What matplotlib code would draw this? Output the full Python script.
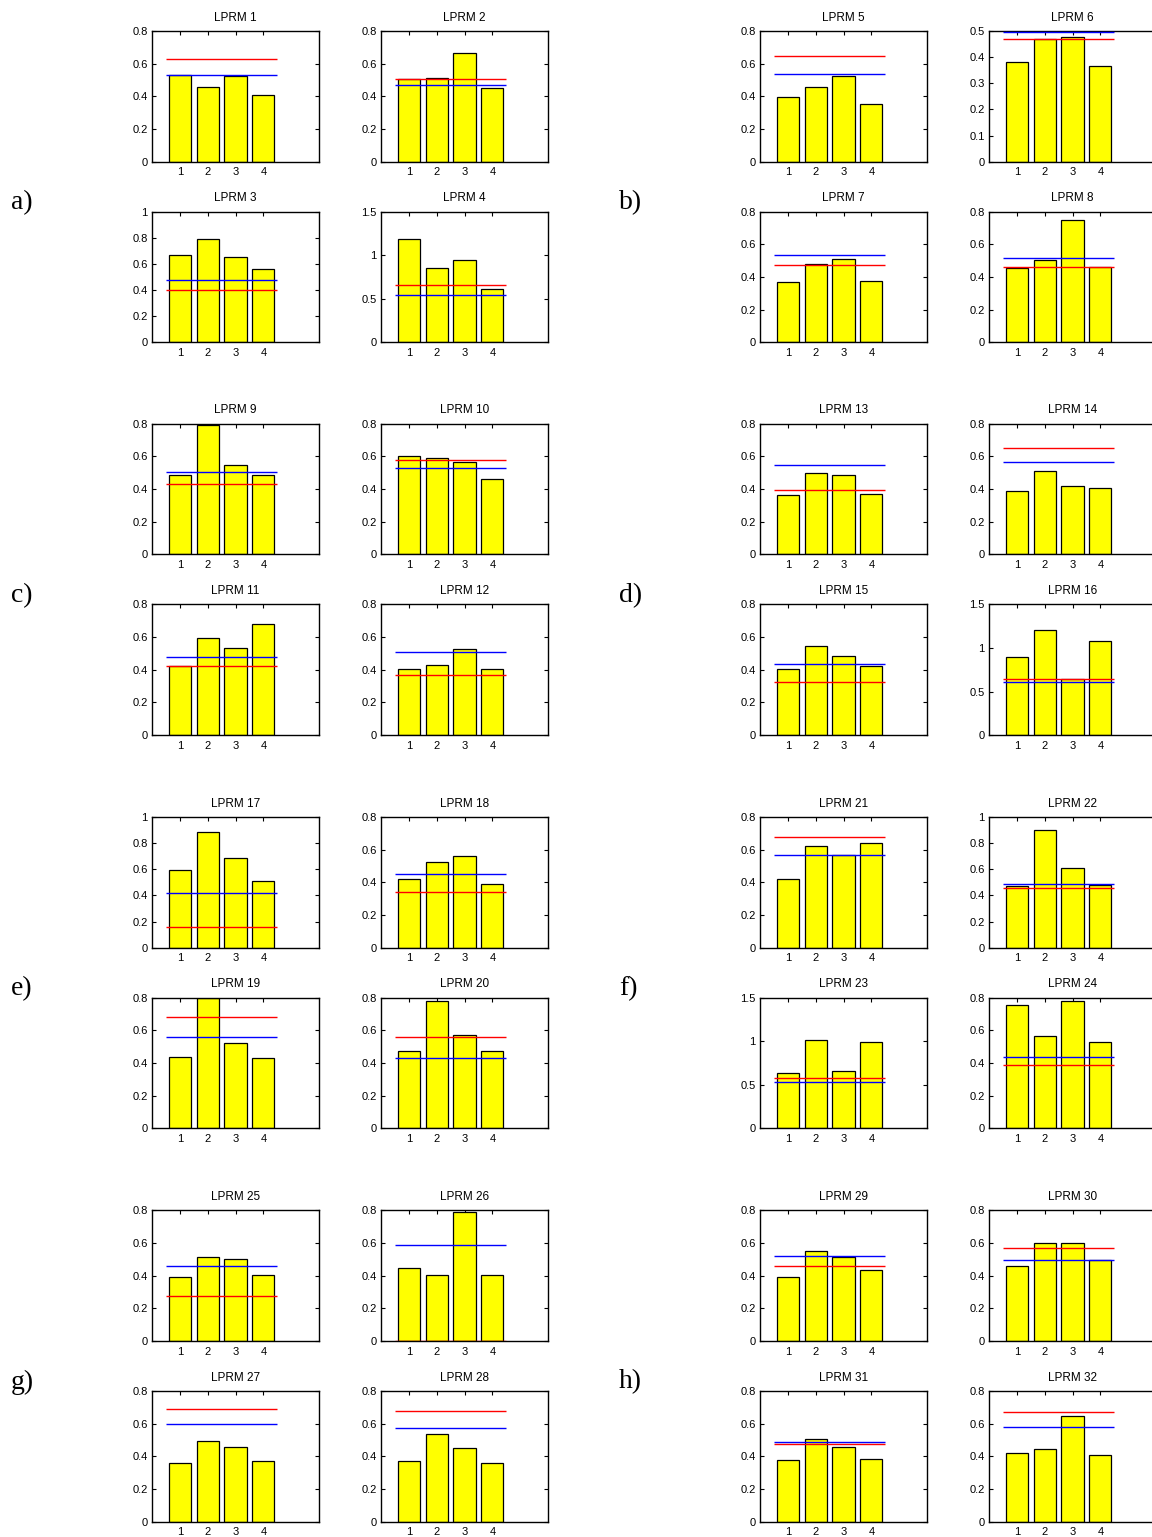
import numpy as np
import matplotlib
matplotlib.use("Agg")
import matplotlib.pyplot as plt

plt.rcParams['font.family'] = ['Liberation Sans', 'DejaVu Sans']

# 每个 LPRM 的四根柱子
bar_values = [
    [0.533, 0.457, 0.524, 0.406],   # LPRM 1
    [0.508, 0.514, 0.665, 0.453],
    [0.668, 0.793, 0.656, 0.559],
    [1.183, 0.850, 0.941, 0.616],
    [0.396, 0.457, 0.524, 0.355],   # LPRM 5
    [0.380, 0.471, 0.478, 0.366],
    [0.371, 0.480, 0.508, 0.378],
    [0.453, 0.502, 0.747, 0.459],
    [0.485, 0.794, 0.546, 0.485],   # LPRM 9
    [0.601, 0.587, 0.564, 0.464],
    [0.422, 0.594, 0.533, 0.678],
    [0.404, 0.431, 0.529, 0.404],
    [0.363, 0.497, 0.485, 0.369],   # LPRM 13
    [0.391, 0.509, 0.418, 0.407],
    [0.404, 0.543, 0.482, 0.420],
    [0.892, 1.209, 0.643, 1.083],
    [0.594, 0.883, 0.684, 0.510],   # LPRM 17
    [0.422, 0.527, 0.563, 0.390],
    [0.439, 0.796, 0.520, 0.433],
    [0.476, 0.782, 0.571, 0.471],
    [0.418, 0.624, 0.569, 0.639],   # LPRM 21
    [0.472, 0.901, 0.612, 0.480],
    [0.631, 1.010, 0.662, 0.987],
    [0.755, 0.565, 0.780, 0.527],
    [0.392, 0.514, 0.504, 0.402],   # LPRM 25
    [0.449, 0.402, 0.790, 0.402],
    [0.357, 0.496, 0.459, 0.373],
    [0.373, 0.537, 0.453, 0.357],
    [0.392, 0.549, 0.516, 0.433],   # LPRM 29
    [0.459, 0.598, 0.598, 0.494],
    [0.380, 0.508, 0.459, 0.386],
    [0.422, 0.447, 0.649, 0.406],
]

# 红线、蓝线水平值
red_level = [0.627, 0.504, 0.398, 0.658, 0.645, 0.468, 0.473, 0.459,
             0.430, 0.580, 0.422, 0.365, 0.397, 0.654, 0.327, 0.643,
             0.161, 0.341, 0.684, 0.557, 0.676, 0.454, 0.578, 0.388,
             0.276, 0.000, 0.692, 0.676, 0.459, 0.571, 0.476, 0.669]
blue_level = [0.531, 0.469, 0.480, 0.543, 0.537, 0.495, 0.537, 0.514,
              0.503, 0.530, 0.478, 0.510, 0.548, 0.564, 0.437, 0.605,
              0.418, 0.453, 0.561, 0.433, 0.569, 0.490, 0.528, 0.439,
              0.459, 0.588, 0.598, 0.576, 0.520, 0.494, 0.490, 0.582]

# y 轴上限
y_max = [0.8, 0.8, 1.0, 1.5, 0.8, 0.5, 0.8, 0.8,
         0.8, 0.8, 0.8, 0.8, 0.8, 0.8, 0.8, 1.5,
         1.0, 0.8, 0.8, 0.8, 0.8, 1.0, 1.5, 0.8,
         0.8, 0.8, 0.8, 0.8, 0.8, 0.8, 0.8, 0.8]

group_labels = ['a)', 'b)', 'c)', 'd)', 'e)', 'f)', 'g)', 'h)']
bar_x = [1, 2, 3, 4]
tick_step = {0.5: 0.1, 0.8: 0.2, 1.0: 0.2, 1.5: 0.5}

W, H = 1152, 1537
fig = plt.figure(figsize=(W / 100, H / 100), dpi=100)

# 版面（像素）
col_left = [152, 381, 760, 989]
ax_w, ax_h = 167, 130.7
group_top = [31, 423.7, 817, 1210.3]
row_gap = 180.7
letter_x = [11, 619]

for g in range(8):
    pair = g % 2
    top0 = group_top[g // 2]
    for k in range(4):
        idx = 4 * g + k
        left = col_left[2 * pair + k % 2]
        top = top0 + (k // 2) * row_gap
        ax = fig.add_axes([left / W, 1 - (top + ax_h) / H, ax_w / W, ax_h / H])

        ax.bar(bar_x, bar_values[idx], width=0.8, color='#ffff00',
               edgecolor='black', linewidth=0.9, zorder=2)
        ax.hlines(red_level[idx], 0.5, 4.5, colors='#ff0000', linewidth=1.0, zorder=3)
        ax.hlines(blue_level[idx], 0.5, 4.5, colors='#0000ff', linewidth=1.0, zorder=3)

        ymax = y_max[idx]
        ax.set_xlim(0, 6)
        ax.set_ylim(0, ymax)
        ax.set_xticks(bar_x)
        yt = np.round(np.arange(0, ymax + 1e-9, tick_step[ymax]), 2)
        ax.set_yticks(yt)
        ax.set_yticklabels([f'{v:g}' for v in yt])
        ax.tick_params(direction='in', top=True, right=True, length=3,
                       width=0.8, labelsize=8, pad=3)
        ax.tick_params(axis='x', pad=4)
        for sp in ax.spines.values():
            sp.set_linewidth(1.0)
        ax.set_title(f'LPRM {idx + 1}', fontsize=8.5, pad=7.5)

    fig.text(letter_x[pair] / W, 1 - (top0 + row_gap - 9) / H, group_labels[g],
             fontsize=20, family='Liberation Serif', ha='left', va='center')

fig.savefig('out.png', dpi=100)
